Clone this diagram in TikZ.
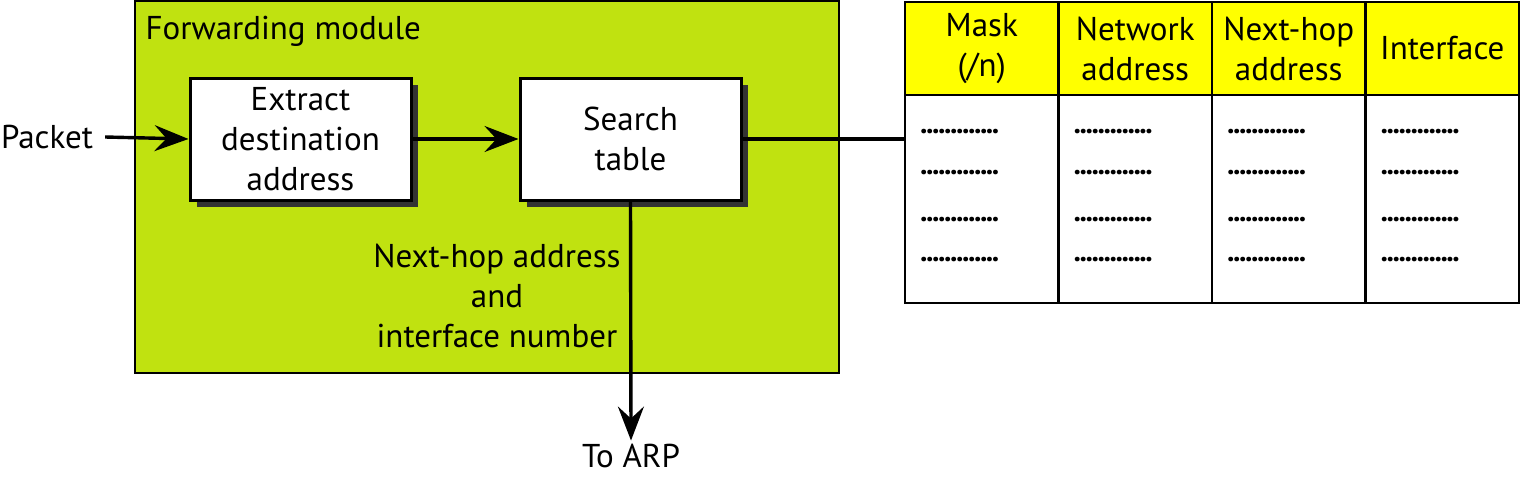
\documentclass[tikz,border=0pt]{standalone}
\usepackage{fontspec}
\setmainfont{PT Sans}
\usetikzlibrary{arrows.meta,shadows}
\definecolor{fwdgreen}{RGB}{192,226,16}
\definecolor{hdryellow}{RGB}{255,255,0}
\newcommand\dd{.\kern-1.4pt}
\newcommand\dotrow{\dd\dd\dd\dd\dd\dd\dd\dd\dd\dd\dd\dd.}
\begin{document}
\begin{tikzpicture}[x=1pt,y=-1pt,
  every node/.style={font=\fontsize{33}{40}\selectfont},
  procbox/.style={draw=black,line width=3pt,fill=white,minimum width=221pt,minimum height=122pt,align=center,inner sep=0pt,
    drop shadow={shadow xshift=7pt,shadow yshift=-7pt,fill=black!80,opacity=1}},
  hcell/.style={draw=black,line width=2.6pt,fill=hdryellow,minimum width=153.5pt,minimum height=93pt,align=center,inner sep=0pt},
  bcell/.style={draw=black,line width=2.6pt,fill=white,minimum width=153.5pt,minimum height=208pt,inner sep=0pt},
  dots/.style={font=\fontsize{30}{30}\bfseries\selectfont,inner sep=0pt},
  conn/.style={line width=3.4pt},
  arr/.style={conn,-{Stealth[length=34pt,width=26pt,inset=12pt]}}]
\useasboundingbox (0,0) rectangle (1522,477);
\node[draw=black,line width=2.6pt,fill=fwdgreen,minimum width=704pt,minimum height=372pt,inner sep=0pt] (fwd) at (487,187) {};
\node[anchor=west] (fwdlabel) at (142,31) {Forwarding module};
\node[procbox] (extract) at (300.5,139) {Extract\\destination\\address};
\node[procbox] (search) at (630.5,139) {Search\\table};
\node[inner sep=0pt] (packet) at (47,137) {Packet};
\node[align=center] (nhlabel) at (497,296) {Next-hop address\\and\\interface number};
\node (arp) at (631,456) {To ARP};
% table
\foreach \i/\x/\t in {1/981.75/{Mask\\(/n)},2/1135.25/{Network\\address},3/1288.75/{Next-hop\\address},4/1442.25/{Interface}}{
  \node[hcell] (h\i) at (\x,48.5) {\t};
  \node[bcell] (b\i) at (\x,199) {};
  \foreach \y [count=\j] in {132,173,220,260}{
    \node[dots] (d\i\j) at ([xshift=-22pt]\x,\y) {\dotrow};
  }
}
\draw[arr] ([xshift=12pt]packet.east) -- (extract.west);
\draw[arr] (extract.east) -- (search.west);
\draw[conn] (search.east) -- (b1.west |- search.east);
\draw[arr] (search.south) -- (arp.north);
\end{tikzpicture}
\end{document}
